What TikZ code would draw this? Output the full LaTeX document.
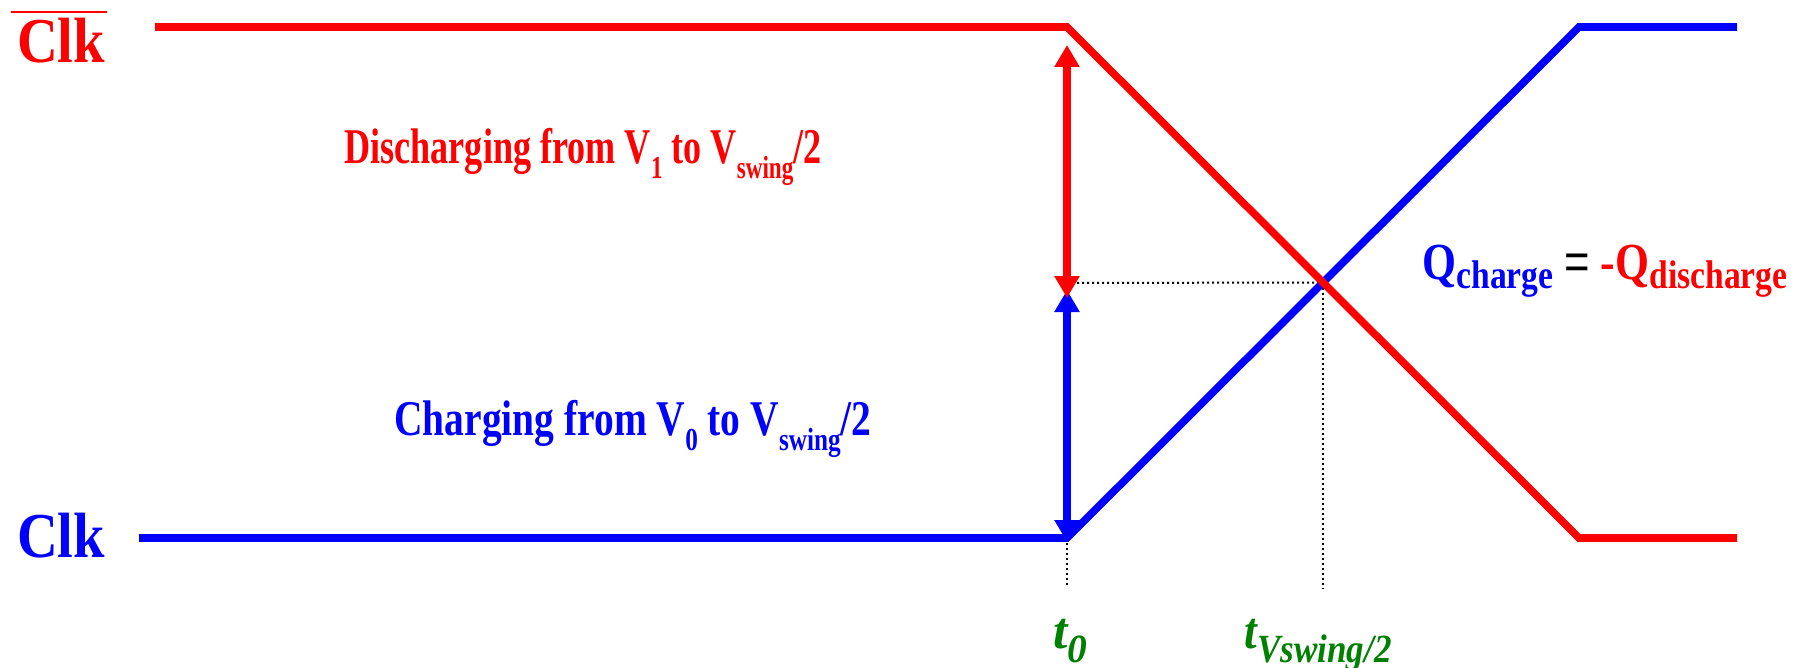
\documentclass[tikz,border=0pt]{standalone}
\usepackage{fontspec}
\usepackage{graphicx}
\setmainfont{Liberation Serif}
\newfontfamily\eqfont{Liberation Sans}
\usetikzlibrary{arrows.meta,positioning,calc}
\definecolor{clkred}{RGB}{255,0,0}
\definecolor{clkblue}{RGB}{0,0,255}
\definecolor{tgreen}{RGB}{0,128,0}
% lowered subscripts in the text labels
\newcommand{\vsub}[1]{\raisebox{-7.5pt}{\fontsize{16}{16}\selectfont #1}}
\newcommand{\qsub}[1]{\raisebox{-4.5pt}{\fontsize{20}{20}\selectfont #1}}
\newcommand{\tsub}[1]{\raisebox{-7pt}{\fontsize{20}{20}\selectfont #1}}
% text squeezed to a given width, height kept
\newcommand{\fitw}[2]{\resizebox{#1}{\height}{#2}}

\begin{document}
\begin{tikzpicture}[
    x=0.5pt, y=-0.5pt,
    wave/.style={line width=3.8pt},
    arr/.style={{Triangle[length=11pt,width=12pt]}-{Triangle[length=11pt,width=12pt]}, line width=4pt},
    guide/.style={black, line width=1pt, dash pattern=on 1pt off 1.5pt},
    lbl/.style={font=\fontsize{25}{28}\selectfont\bfseries, inner sep=0pt, anchor=base},
    clklbl/.style={font=\fontsize{32}{34}\selectfont\bfseries, inner sep=0pt, anchor=base},
    tlbl/.style={font=\fontsize{26}{28}\selectfont\bfseries\itshape, text=tgreen, inner sep=0pt, anchor=base},
]
\useasboundingbox (0,0) rectangle (1807,668);

% waveform corners
\coordinate (rs) at (155,27);
\coordinate (rk) at (1067,27);
\coordinate (rb) at (1579,538);
\coordinate (re) at (1737,538);
\coordinate (bs) at (139,538);
\coordinate (bk) at (1067,538);
\coordinate (bt) at (1579,27);
\coordinate (be) at (1737,27);
\coordinate (cross) at ($(rk)!0.5!(rb)$);
\coordinate (mid) at (1067,283);
\coordinate (t0foot) at (1067,588);
\coordinate (thfoot) at (cross |- t0foot);

% dotted guides
\draw[guide] (mid) -- (cross);
\draw[guide] (cross) -- (thfoot);
\draw[guide] (bk) -- (t0foot);

% clock waveforms
\draw[wave, clkblue] (bs) -- (bk) -- (bt) -- (be);
\draw[wave, clkred] (rs) -- (rk) -- (rb) -- (re);

% voltage arrows
\coordinate (btip) at (1067,290);
\coordinate (bbot) at (1067,542);
\coordinate (rtip) at (1067,298);
\coordinate (rtop) at (1067,45);
\draw[arr, clkblue] (bbot) -- (btip);
\draw[arr, clkred] (rtop) -- (rtip);

% labels
\node[clklbl, text=clkred] (clkbar) at (61,63) {\fitw{44pt}{Clk}};
\draw[clkred, line width=1.1pt] ($(clkbar.west |- 0,12)+(-3pt,0)$) -- ($(clkbar.east |- 0,12)+(1pt,0)$);
\node[clklbl, text=clkblue] (clk) at (61,557) {\fitw{44pt}{Clk}};

\node[lbl, text=clkred] (dis) at (583,163) {\fitw{238.5pt}{Discharging from V\vsub{1} to V\vsub{swing}/2}};
\node[lbl, text=clkblue] (chg) at (633,435) {\fitw{238.5pt}{Charging from V\vsub{0} to V\vsub{swing}/2}};

\node[lbl, font=\fontsize{26}{28}\selectfont\bfseries] (qeq) at (1605,279)
  {\fitw{182.5pt}{\textcolor{clkblue}{Q\qsub{charge}} {\eqfont\mdseries =} \textcolor{clkred}{-Q\qsub{discharge}}}};

\node[tlbl] (t0) at (1070,648) {\fitw{17pt}{t\tsub{0}}};
\node[tlbl] (th) at (1318,648) {\fitw{73.5pt}{t\tsub{Vswing/2}}};
\end{tikzpicture}
\end{document}
